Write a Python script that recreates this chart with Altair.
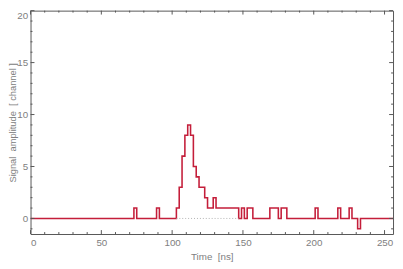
import altair as alt
import pandas as pd

# Sampling times (ns), 2 ns bins
times = list(range(0, 258, 2))
# Signal amplitude (channel) per sample
amplitude = (
    [0] * 10 +
    [0] * 10 +
    [0] * 10 +
    [0, 0, 0, 0, 0, 0, 0, 1, 0, 0] +
    [0, 0, 0, 0, 0, 1, 0, 0, 0, 0] +
    [0, 0, 1, 3, 6, 8, 9, 8, 5, 4] +
    [3, 3, 2, 1, 1, 2, 1, 1, 1, 1] +
    [1, 1, 1, 1, 0, 1, 0, 1, 1, 0] +
    [0, 0, 0, 0, 0, 1, 1, 1, 0, 1] +
    [1, 0, 0, 0, 0, 0, 0, 0, 0, 0] +
    [0, 1, 0, 0, 0, 0, 0, 0, 0, 1] +
    [0, 0, 0, 1, 0, 0, -1, 0, 0, 0] +
    [0] * 9
)

# Baseline (dotted) window
baseline_start = [103]
baseline_end = [147]
baseline_level = [0]

# Axis ticks
x_major = [0, 50, 100, 150, 200, 250]
x_minor = [v for v in range(10, 256, 10) if v % 50 != 0]
y_major = [0, 5, 10, 15, 20]
y_minor = [v for v in range(-1, 20) if v % 5 != 0]

NB = "\u00a0"
x_title = "Time" + NB + NB + "[ns]"
y_title = "Signal" + NB + NB + "amplitude" + NB + NB + "[" + NB + "channel" + NB + "]"

W, H = 370, 228
XDOM = [0, 256]
YDOM = [-1.5, 20]
FRAME = "#555555"
LBL = "#808080"
FONT = "Liberation Sans"

xs = alt.Scale(domain=XDOM, nice=False, zero=False)
ys = alt.Scale(domain=YDOM, nice=False, zero=False)
xa = alt.Axis(title=x_title, values=x_major, ticks=False, domain=False,
              grid=False, labelPadding=4, titlePadding=4, format="d")
ya = alt.Axis(title=y_title, values=y_major, ticks=False,
              domain=False, grid=False, labelPadding=3, titleX=-13,
              titleFontSize=9.5, titleBaseline="bottom", labelFlush=True, format="d")

sig = pd.DataFrame({"t": times, "a": amplitude})
base = pd.DataFrame({"t0": baseline_start, "t1": baseline_end, "y": baseline_level})

line = alt.Chart(sig).mark_line(
    interpolate="step", color="#c41e3a", strokeWidth=1.6, clip=True
).encode(
    x=alt.X("t:Q", scale=xs, axis=xa),
    y=alt.Y("a:Q", scale=ys, axis=ya),
)

dotted = alt.Chart(base).mark_rule(
    color="#b0b0b0", strokeWidth=1, strokeDash=[1, 2]
).encode(
    x=alt.X("t0:Q", scale=xs, axis=xa),
    x2="t1:Q",
    y=alt.Y("y:Q", scale=ys, axis=ya),
)

def xticks(vals, length):
    df = pd.DataFrame({"tx": vals})
    bot = alt.Chart(df).mark_rule(color=FRAME, strokeWidth=1).encode(
        x=alt.X("tx:Q", scale=xs, axis=xa),
        y=alt.value(H), y2=alt.value(H - length))
    top = alt.Chart(df).mark_rule(color=FRAME, strokeWidth=1).encode(
        x=alt.X("tx:Q", scale=xs, axis=xa),
        y=alt.value(0), y2=alt.value(length))
    return [bot, top]

def yticks(vals, length):
    df = pd.DataFrame({"ty": vals})
    left = alt.Chart(df).mark_rule(color=FRAME, strokeWidth=1).encode(
        y=alt.Y("ty:Q", scale=ys, axis=ya),
        x=alt.value(0), x2=alt.value(length))
    right = alt.Chart(df).mark_rule(color=FRAME, strokeWidth=1).encode(
        y=alt.Y("ty:Q", scale=ys, axis=ya),
        x=alt.value(W), x2=alt.value(W - length))
    return [left, right]

layers = [line, dotted] + xticks(x_major, 4) + xticks(x_minor, 2) + yticks(y_major, 4) + yticks(y_minor, 2)

chart = alt.layer(*layers).properties(
    width=W, height=H,
    autosize=alt.AutoSizeParams(type="none"),
    padding={"left": 23, "top": 0, "right": 2, "bottom": 33},
).configure_view(
    stroke=FRAME, strokeWidth=1
).configure_axis(
    labelFont=FONT, titleFont=FONT, labelFontSize=10, titleFontSize=10,
    labelColor=LBL, titleColor=LBL, titleFontWeight="normal"
)

chart.save("out.html", embed_options={"renderer": "svg", "actions": False})
